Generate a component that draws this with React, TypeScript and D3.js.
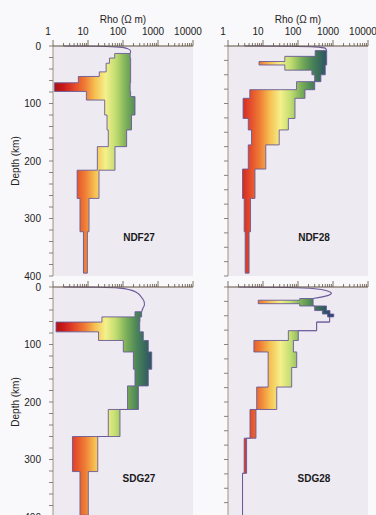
import * as d3 from 'd3';

const RHO_LABELS = [1, 10, 100, 1000, 10000];
const DEPTH_LABELS = [0, 100, 200, 300, 400];

// layer tops (km), min / max resistivity (ohm m) per layer
const NDF27_TOP = [13, 21, 30, 45, 53, 64, 79, 88, 94, 120, 146, 175, 216, 265, 323];
const NDF27_LO = [58, 41, 33, 21, 5.3, 1.1, 9, 9, 30, 35, 38, 18.5, 4.9, 5.9, 7.4];
const NDF27_HI = [160, 165, 165, 165, 165, 160, 165, 220, 220, 175, 127, 59, 20.6, 10.7, 9.6];
const NDF27_SURF_D = [0, 0.5, 2, 5, 9, 13];
const NDF27_SURF_RHO = [2, 20, 80, 140, 165, 160];

const NDF28_TOP = [8, 18, 27, 33, 42, 50, 62, 76, 91, 126, 146, 172, 214, 265, 323];
const NDF28_LO = [310, 42, 7.7, 42, 250, 300, 91, 4.2, 2.7, 3.8, 4.7, 3.8, 2.6, 2.9, 3.1];
const NDF28_HI = [660, 660, 660, 600, 600, 450, 300, 158, 82, 53, 29, 12, 5.9, 4.4, 4.0];
const NDF28_SURF_D = [0, 0.4, 1.5, 4, 8];
const NDF28_SURF_RHO = [3, 50, 300, 600, 660];

const SDG27_TOP = [43, 52, 61, 78, 93, 113, 143, 172, 213, 260, 321];
const SDG27_LO = [220, 25, 1.22, 20, 102, 198, 220, 135, 38, 3.6, 5.9];
const SDG27_HI = [340, 305, 300, 380, 527, 660, 527, 275, 82, 19, 10.2];
const SDG27_SURF_D = [0, 0.5, 2, 5, 10, 17, 25, 31, 37, 43];
const SDG27_SURF_RHO = [2, 20, 80, 160, 250, 330, 400, 410, 370, 340];

const SDG28_TOP = [20, 23, 29, 33, 41, 47, 52, 61, 76, 93, 113, 140, 174, 213, 263, 324];
const SDG28_LO = [112, 7.3, 112, 300, 500, 700, 800, 340, 53, 5.5, 14, 14, 6.6, 4.25, 2.9, 2.6];
const SDG28_HI = [270, 270, 270, 650, 820, 1050, 800, 340, 102, 74, 92, 66, 24.7, 6.3, 3.4, 2.6];
const SDG28_SURF_D = [0, 1, 3, 7, 11, 15, 20];
const SDG28_SURF_RHO = [2, 50, 300, 700, 900, 700, 270];

// colour ramp along log10(rho)
const RAMP_LOG = [0, 0.3, 0.6, 0.9, 1.2, 1.5, 1.8, 2.1, 2.4, 2.7, 3.0, 3.3, 4];
const RAMP_COL = ['#a80e14', '#c81a1a', '#e2462a', '#ee7a34', '#f6c052', '#f4f08a', '#c0dc70',
  '#7aae58', '#4a8458', '#33605e', '#263e7c', '#28308a', '#28308a'];

const W = 376;
const H = 515;
const PANEL_W = 140;
const PANEL_H = 230;
const FONT = '"Liberation Sans", Arial, sans-serif';
const OUTLINE = '#6a5a96';
const AXIS = '#5e5040';

type PanelProps = {
  id: string;
  left: number;
  top: number;
  label: string;
  tops: number[];
  lo: number[];
  hi: number[];
  bottom: number;
  surfD: number[];
  surfRho: number[];
  tickStep: number;
  yLabels: boolean;
  xLabels: boolean;
};

const Panel = (p: PanelProps) => {
  const x = d3.scaleLog().domain([1, 10000]).range([p.left, p.left + PANEL_W]);
  const y = d3.scaleLinear().domain([0, 400]).range([p.top, p.top + PANEL_H]);

  const pts = p.tops.map((d, i) => ({ d, lo: p.lo[i], hi: p.hi[i] }));
  pts.push({ d: p.bottom, lo: p.lo[p.lo.length - 1], hi: p.hi[p.hi.length - 1] });

  const band = d3.area<{ d: number; lo: number; hi: number }>()
    .y(v => y(v.d))
    .x0(v => x(v.lo))
    .x1(v => x(v.hi))
    .curve(d3.curveStepBefore);

  const surf = d3.line<number>()
    .x((_, i) => x(p.surfRho[i]))
    .y(d => y(d))
    .curve(d3.curveMonotoneY);

  const ramp = d3.scaleLinear<string>().domain(RAMP_LOG).range(RAMP_COL);
  const stops = d3.range(0, 4.01, 0.1);

  const xticks = x.ticks();
  const yticks = d3.range(0, 401, p.tickStep);

  return (
    <g>
      <defs>
        <linearGradient id={`grad-${p.id}`} gradientUnits="userSpaceOnUse"
          x1={x(1)} x2={x(10000)} y1={0} y2={0}>
          {stops.map(s => (
            <stop key={s} offset={s / 4} stopColor={ramp(s)} />
          ))}
        </linearGradient>
      </defs>
      <rect x={p.left} y={p.top} width={PANEL_W} height={PANEL_H} fill="#eeeaf2" />

      <path d={band(pts) || ''} fill={`url(#grad-${p.id})`} stroke={OUTLINE}
        strokeWidth={0.9} strokeLinejoin="miter" />
      <path d={surf(p.surfD) || ''} fill="none" stroke={OUTLINE} strokeWidth={1.1} />

      {/* top axis */}
      <line x1={p.left} x2={p.left + PANEL_W} y1={p.top} y2={p.top} stroke={AXIS} strokeWidth={1.2} />
      {xticks.map((t, i) => {
        const major = Math.abs(Math.log10(t) - Math.round(Math.log10(t))) < 1e-6;
        return (
          <line key={i} x1={x(t)} x2={x(t)} y1={p.top} y2={p.top - (major ? 6 : 3)}
            stroke={AXIS} strokeWidth={0.8} />
        );
      })}
      {p.xLabels && RHO_LABELS.map(t => (
        <text key={t} x={x(t) - 5} y={p.top - 11} textAnchor="middle"
          fontFamily={FONT} fontSize={10} fill="#222">{t}</text>
      ))}
      {p.xLabels && (
        <text x={p.left + 70} y={p.top - 23} textAnchor="middle"
          fontFamily={FONT} fontSize={10} fill="#222">Rho (Ω m)</text>
      )}

      {/* left axis */}
      <line x1={p.left} x2={p.left} y1={p.top} y2={p.top + PANEL_H} stroke="#8a7c68" strokeWidth={0.8} />
      {yticks.map(t => (
        <line key={t} x1={p.left} x2={p.left - 4} y1={y(t)} y2={y(t)} stroke="#6e6658" strokeWidth={0.8} />
      ))}
      {p.yLabels && DEPTH_LABELS.map(t => (
        <text key={t} x={p.left - 12} y={y(t)} dy="0.35em" textAnchor="end"
          fontFamily={FONT} fontSize={10} fill="#222">{t}</text>
      ))}
      {p.yLabels && (
        <text transform={`translate(19,${p.top + PANEL_H / 2}) rotate(-90)`} textAnchor="middle"
          fontFamily={FONT} fontSize={10} fill="#222">Depth (km)</text>
      )}

      <text x={p.left + 86} y={p.top + 195} textAnchor="middle" fontFamily={FONT}
        fontSize={10} fontWeight="bold" fill="#1a1a1a">{p.label}</text>
    </g>
  );
};

export default function App() {
  return (
    <svg width={W} height={H} style={{ position: 'absolute', left: 0, top: 0 }}>
      <rect width={W} height={H} fill="#f9f8fa" />
      <Panel id="a" left={53} top={46} label="NDF27" tops={NDF27_TOP} lo={NDF27_LO} hi={NDF27_HI}
        bottom={395} surfD={NDF27_SURF_D} surfRho={NDF27_SURF_RHO} tickStep={20} yLabels xLabels />
      <Panel id="b" left={228} top={46} label="NDF28" tops={NDF28_TOP} lo={NDF28_LO} hi={NDF28_HI}
        bottom={395} surfD={NDF28_SURF_D} surfRho={NDF28_SURF_RHO} tickStep={25} yLabels={false} xLabels />
      <Panel id="c" left={53} top={287} label="SDG27" tops={SDG27_TOP} lo={SDG27_LO} hi={SDG27_HI}
        bottom={397} surfD={SDG27_SURF_D} surfRho={SDG27_SURF_RHO} tickStep={20} yLabels xLabels={false} />
      <Panel id="d" left={228} top={287} label="SDG28" tops={SDG28_TOP} lo={SDG28_LO} hi={SDG28_HI}
        bottom={397} surfD={SDG28_SURF_D} surfRho={SDG28_SURF_RHO} tickStep={25} yLabels={false} xLabels={false} />
    </svg>
  );
}
